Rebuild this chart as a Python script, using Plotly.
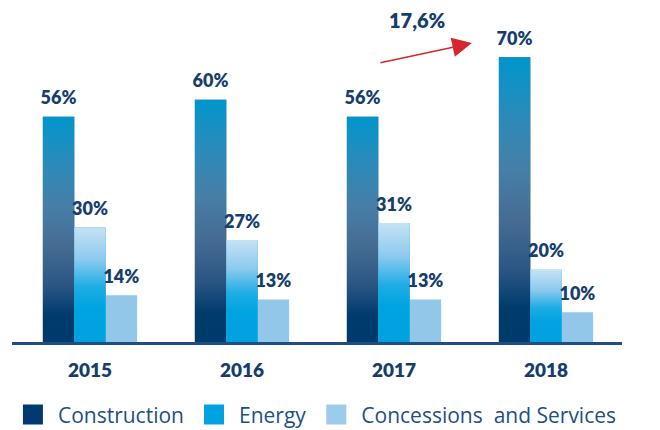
import plotly.graph_objects as go

# --- data -------------------------------------------------------------
years = ["2015", "2016", "2017", "2018"]
construction = [56, 60, 56, 70]
energy = [30, 27, 31, 20]
concessions = [14, 13, 13, 10]
growth_label = "17,6%"

series_names = ["Construction", "Energy", "Concessions  and Services"]
series_values = [construction, energy, concessions]

# --- styling ----------------------------------------------------------
NAVY_TEXT = "#163e6d"
LEGEND_TEXT = "#1e4f86"
legend_colors = ["#003a70", "#00a3e0", "#9ccbeb"]
flat_colors = ["#2f6794", "#1eaae3", "#93c7e9"]
Y_RANGE = [3, 78.3]

# vertical gradients, 0 = bar base, 1 = bar top
gradients = [
    [[0.0, "#003a6c"], [0.12, "#003b6e"], [0.25, "#2a5583"], [0.42, "#456b92"],
     [0.6, "#477ea6"], [0.8, "#2a8bbb"], [1.0, "#0096cc"]],
    [[0.0, "#00a2de"], [0.3, "#00a4e0"], [0.48, "#1eade5"], [0.72, "#8ccaee"],
     [1.0, "#c6e2f5"]],
    None,
]

group_width = 0.62
bar_width = group_width / 3
positions = list(range(len(years)))
offsets = [-group_width / 2 + i * bar_width for i in range(3)]

fig = go.Figure()

for i, (name, vals) in enumerate(zip(series_names, series_values)):
    fig.add_trace(go.Bar(
        x=positions, y=vals, name=name,
        offset=offsets[i], width=bar_width,
        marker=dict(color=flat_colors[i], line=dict(width=0)),
        showlegend=False, hoverinfo="skip",
    ))
    # gradient fill over each bar, spanning the bar's visible height
    if gradients[i] is not None:
        for p, v in zip(positions, vals):
            x0 = p + offsets[i]
            x1 = x0 + bar_width
            fig.add_trace(go.Scatter(
                x=[x0, x1, x1, x0, x0], y=[0, 0, v, v, 0],
                mode="lines", line=dict(width=0), fill="toself",
                fillgradient=dict(type="vertical", colorscale=gradients[i],
                                  start=Y_RANGE[0], stop=v),
                showlegend=False, hoverinfo="skip",
            ))

# value labels above each bar (drawn last so they sit over the fills);
# the transparent marker keeps the text a little above the bar top
for i, vals in enumerate(series_values):
    fig.add_trace(go.Scatter(
        x=[p + offsets[i] + bar_width / 2 for p in positions], y=vals,
        mode="markers+text", text=[f"{v}%" for v in vals],
        textposition="top center",
        marker=dict(size=11, opacity=0),
        textfont=dict(family="Lato", size=18, weight=800, color=NAVY_TEXT),
        cliponaxis=False, showlegend=False, hoverinfo="skip",
    ))

# legend entries
for name, c in zip(series_names, legend_colors):
    fig.add_trace(go.Scatter(
        x=[None], y=[None], mode="markers", name=name,
        marker=dict(symbol="square", size=16, color=c, line=dict(color=c, width=4)),
    ))

# growth arrow and label
fig.add_annotation(
    xref="paper", yref="paper", x=0.754, y=0.934,
    ax=-93, ay=20, axref="pixel", ayref="pixel",
    text="", showarrow=True, arrowhead=2, arrowsize=2.8, arrowwidth=1.4,
    arrowcolor="#d9262e", standoff=0,
)
fig.add_annotation(
    xref="paper", yref="paper", x=0.664, y=1.006,
    xanchor="center", yanchor="middle",
    text=growth_label, showarrow=False,
    font=dict(family="Lato", size=20, weight=800, color=NAVY_TEXT),
)

fig.update_layout(
    template="none",
    width=660, height=430,
    margin=dict(l=12, r=38, t=22, b=88),
    paper_bgcolor="white", plot_bgcolor="white",
    barmode="overlay",
    xaxis=dict(
        range=[-0.513, 3.5], tickvals=positions, ticktext=years,
        showgrid=False, zeroline=False, showline=True,
        linecolor="#1f4e84", linewidth=3, ticks="",
        ticklabelstandoff=9,
        tickfont=dict(family="Lato", size=19, weight=800, color=NAVY_TEXT),
    ),
    yaxis=dict(range=Y_RANGE, visible=False, showgrid=False, zeroline=False),
    legend=dict(
        orientation="h", xref="container", yref="container",
        x=0.012, y=0.035, xanchor="left", yanchor="middle",
        itemwidth=40,
        font=dict(family="Open Sans", size=21, color=LEGEND_TEXT),
        itemclick=False, itemdoubleclick=False,
    ),
    showlegend=True,
)

fig.write_html("out.html")
